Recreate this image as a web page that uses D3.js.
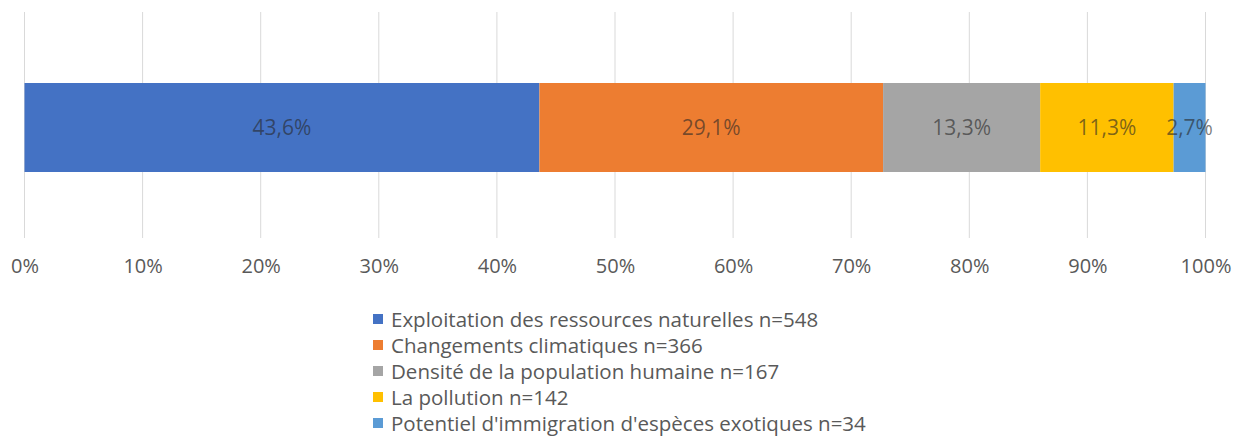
<!DOCTYPE html>
<html>
<head>
<meta charset="utf-8">
<script src="https://cdn.jsdelivr.net/npm/d3@7"></script>
<style>
  body { margin: 0; background: #fff; }
  text { font-family: "Open Sans", "Noto Sans", sans-serif; }
</style>
</head>
<body>
<svg width="1236" height="439"></svg>
<script>
var categories = [
    "Exploitation des ressources naturelles n=548",
    "Changements climatiques n=366",
    "Densité de la population humaine n=167",
    "La pollution n=142",
    "Potentiel d'immigration d'espèces exotiques n=34"
];
var shares = [43.6, 29.1, 13.3, 11.3, 2.7];
var colors = ["#4472C4", "#ED7D31", "#A5A5A5", "#FFC000", "#5B9BD5"];
var tickValues = [0, 10, 20, 30, 40, 50, 60, 70, 80, 90, 100];

var svg = d3.select('svg');

var x = d3.scaleLinear().domain([0, 100]).range([24.5, 1205.5]);

// gridlines
svg.append('g')
    .selectAll('line')
    .data(tickValues)
    .enter()
    .append('line')
    .attr('x1', function (d) { return x(d); })
    .attr('x2', function (d) { return x(d); })
    .attr('y1', 12)
    .attr('y2', 238)
    .attr('stroke', '#d9d9d9')
    .attr('stroke-width', 1);

// axis labels
var axis = d3.axisBottom(x)
    .tickValues(tickValues)
    .tickSize(0)
    .tickPadding(0)
    .tickFormat(function (d) { return d + '%'; });

var ax = svg.append('g')
    .attr('transform', 'translate(0,259)')
    .call(axis);
ax.select('.domain').remove();
ax.selectAll('text')
    .attr('fill', '#595959')
    .style('font-size', '20px')
    .style('font-family', '"Open Sans", sans-serif');

// stacked segments
var stacked = [];
var acc = 0;
shares.forEach(function (v, i) {
    stacked.push({start: acc, end: acc + v, value: v, color: colors[i]});
    acc += v;
});

var seg = svg.append('g')
    .selectAll('g')
    .data(stacked)
    .enter()
    .append('g');

seg.append('rect')
    .attr('x', function (d) { return x(d.start); })
    .attr('width', function (d) { return x(d.end) - x(d.start); })
    .attr('y', 83)
    .attr('height', 89)
    .attr('fill', function (d) { return d.color; });

seg.append('text')
    .attr('x', function (d) { return (x(d.start) + x(d.end)) / 2; })
    .attr('y', 129)
    .attr('text-anchor', 'middle')
    .attr('dominant-baseline', 'middle')
    .style('font-size', '21px')
    .attr('fill', '#262626')
    .attr('fill-opacity', 0.6)
    .text(function (d) { return d.value.toFixed(1).replace('.', ',') + '%'; });

// legend
var legend = svg.append('g')
    .selectAll('g')
    .data(categories)
    .enter()
    .append('g')
    .attr('transform', function (d, i) { return 'translate(373,' + (319 + i * 26) + ')'; });

legend.append('rect')
    .attr('x', 0)
    .attr('y', -5)
    .attr('width', 10)
    .attr('height', 10)
    .attr('fill', function (d, i) { return colors[i]; });

legend.append('text')
    .attr('x', 18)
    .attr('y', 0)
    .attr('dominant-baseline', 'central')
    .style('font-size', '20.5px')
    .attr('fill', '#595959')
    .text(function (d) { return d; });
</script>
</body>
</html>
